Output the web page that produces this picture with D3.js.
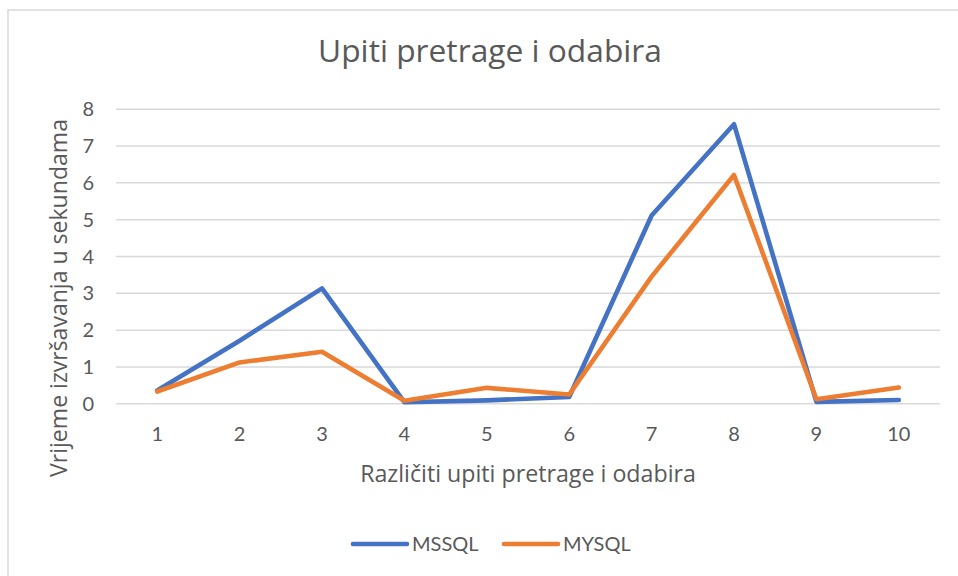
<!DOCTYPE html>
<html><head><meta charset="utf-8">
<script src="https://cdn.jsdelivr.net/npm/d3@7"></script>
<style>body{margin:0;background:#fff}svg{display:block}text{font-family:Lato,"Open Sans",sans-serif;fill:#595959}</style>
</head><body>
<svg id="c" width="958" height="576"></svg>
<script>
const categories = ["1","2","3","4","5","6","7","8","9","10"];
const mssql = [0.35, 1.70, 3.12, 0.03, 0.08, 0.17, 5.10, 7.58, 0.04, 0.09];
const mysql = [0.32, 1.11, 1.40, 0.07, 0.42, 0.24, 3.44, 6.20, 0.11, 0.43];
const yTicks = [0,1,2,3,4,5,6,7,8];
const seriesNames = ["MSSQL","MYSQL"];
const colors = ["#4472C4","#ED7D31"];
const title = "Upiti pretrage i odabira";
const xTitle = "Različiti upiti pretrage i odabira";
const yTitle = "Vrijeme izvršavanja u sekundama";

const svg = d3.select("#c");
svg.append("rect").attr("x",8).attr("y",10).attr("width",1000).attr("height",600)
  .attr("fill","#fff").attr("stroke","#d9d9d9").attr("stroke-width",1.5);

const x = d3.scaleBand().domain(categories).range([116,940]);
const y = d3.scaleLinear().domain([0,8]).range([403.3,108.7]);

const gy = svg.append("g").attr("transform","translate(116,0)")
  .call(d3.axisLeft(y).tickValues(yTicks).tickSize(-824).tickFormat(d=>d).tickPadding(22));
gy.select(".domain").remove();
gy.selectAll("line").attr("stroke","#d9d9d9").attr("stroke-width",1.5);
gy.selectAll("text").attr("font-size",20).attr("fill","#595959").attr("dy","0.35em").style("font-family","Lato");

const gx = svg.append("g").attr("transform","translate(0,403.3)")
  .call(d3.axisBottom(x).tickSize(0).tickPadding(24));
gx.select(".domain").remove();
gx.selectAll("text").attr("font-size",20).attr("fill","#595959").style("font-family","Lato");

const line = d3.line().x((d,i)=>x(categories[i])+x.bandwidth()/2).y(d=>y(d));
[mssql, mysql].forEach((s,k)=>{
  svg.append("path").datum(s).attr("d",line).attr("fill","none")
    .attr("stroke",colors[k]).attr("stroke-width",4.6)
    .attr("stroke-linejoin","round").attr("stroke-linecap","round");
});

function fit(sel, target){
  const fs = +sel.attr("font-size");
  const w = sel.node().getComputedTextLength();
  sel.attr("font-size", fs*target/w);
  return sel;
}
fit(svg.append("text").attr("x",490).attr("y",62).attr("text-anchor","middle")
  .style("font-family","'Open Sans'").attr("font-size",26).text(title), 344);
fit(svg.append("text").attr("x",528).attr("y",482).attr("text-anchor","middle")
  .style("font-family","'Open Sans'").attr("font-size",20).text(xTitle), 336);
fit(svg.append("text").attr("transform","translate(67,298) rotate(-90)").attr("text-anchor","middle")
  .style("font-family","'Open Sans'").attr("font-size",20).text(yTitle), 358);

const legX = [353, 504];
seriesNames.forEach((n,k)=>{
  svg.append("line").attr("x1",legX[k]).attr("x2",legX[k]+54).attr("y1",544).attr("y2",544)
    .attr("stroke",colors[k]).attr("stroke-width",4.6).attr("stroke-linecap","round");
  svg.append("text").attr("x",legX[k]+59).attr("y",551).attr("font-size",20).text(n);
});
</script>
</body></html>
